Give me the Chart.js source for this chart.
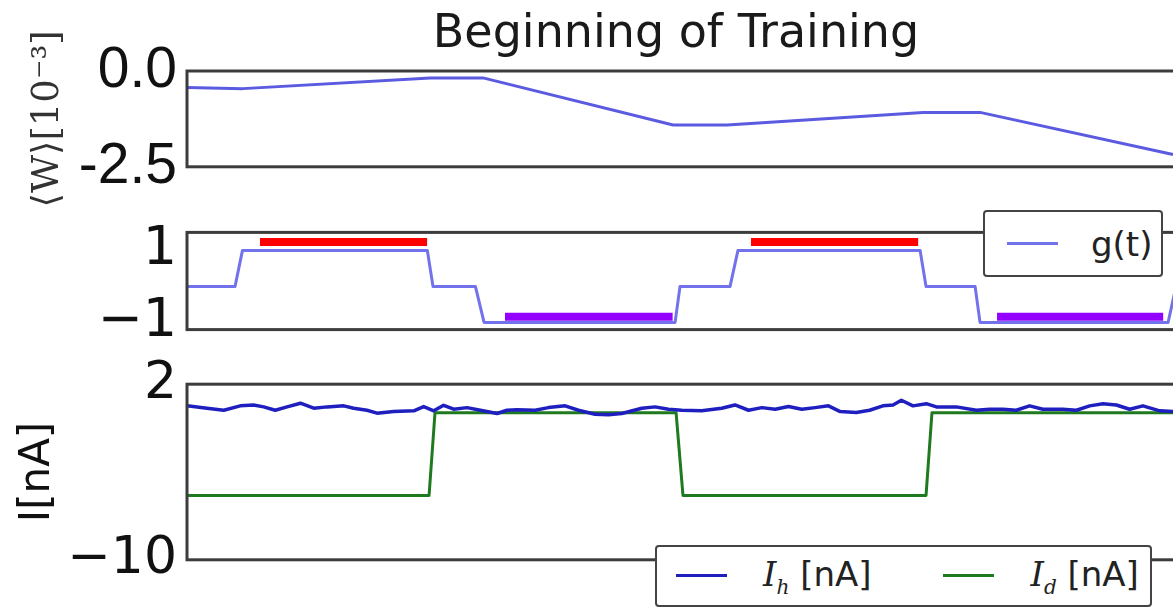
<!DOCTYPE html>
<html>
<head>
<meta charset="utf-8">
<script src="https://cdn.jsdelivr.net/npm/chart.js@4.4.1/dist/chart.umd.min.js"></script>
<style>
  html, body { margin: 0; padding: 0; background: #fff; overflow: hidden; }
  body { width: 1173px; height: 609px; position: relative; }
  canvas { position: absolute; left: 0; }
  #wChart { top: 0; }
  #gChart { top: 190px; }
  #iChart { top: 343px; }
  .legend {
    position: absolute; z-index: 5; background: #fff; box-sizing: border-box;
    border: 2px solid #444; border-radius: 4px;
    display: flex; align-items: center;
    font-family: 'DejaVu Sans', sans-serif; font-size: 34px; color: #222;
  }
  .legend .item { display: flex; align-items: center; }
  .legend .swatch { display: inline-block; width: 51px; height: 3px; }
  .legend i { font-family: 'DejaVu Serif', serif; }
  .legend sub { font-size: 20px; }
  #gLegend { left: 983px; top: 210px; width: 180px; height: 67px; padding-left: 22px; }
  #gLegend .swatch { margin-right: 33px; }
  #iLegend { left: 655px; top: 545px; width: 497px; height: 62px; padding-left: 19px; }
  #iLegend .swatch { margin-right: 36px; }
  #iLegend .item + .item { margin-left: 72px; }
</style>
</head>
<body>
<canvas id="wChart" width="1176" height="211"></canvas>
<canvas id="gChart" width="1176" height="182"></canvas>
<canvas id="iChart" width="1176" height="258"></canvas>
<div id="gLegend" class="legend"></div>
<div id="iLegend" class="legend"></div>
<script>
// temps en secondes
const tMax = 4.012;

// panneau 1 : poids moyen <W> [1e-3]
const wTimes  = [0, 0.227, 0.986, 1.201, 1.972, 2.191, 2.986, 3.217, 4.0];
const wValues = [-0.43, -0.46, -0.18, -0.18, -1.41, -1.41, -1.08, -1.08, -2.18];
const wTicks = [0, -2.5];
const wTickLabels = ['0.0', '-2.5'];

// panneau 2 : signal g(t)
const gTimes  = [0, 0.195, 0.225, 0.975, 0.998, 1.17, 1.205, 1.98, 2.0, 2.203, 2.235, 2.974, 2.998, 3.197, 3.217, 3.98, 4.012];
const gValues = [0, 0, 1, 1, 0, 0, -1, -1, 0, 0, 1, 1, 0, 0, -1, -1, 0];
const gTicks = [1, -1];
const gTickLabels = ['1', '\u22121'];
const redStart = [0.296, 2.288];
const redEnd = [0.974, 2.966];
const redLevel = 1.23;
const purpleStart = [1.29, 3.286];
const purpleEnd = [1.97, 3.96];
const purpleLevel = -0.84;

// panneau 3 : courants I_h et I_d
const ihTimes = [0, 0.081, 0.149, 0.216, 0.270, 0.311, 0.358, 0.406, 0.460, 0.514, 0.568, 0.636, 0.676, 0.730, 0.771, 0.838, 0.920, 0.960, 1.001, 1.041, 1.082, 1.136, 1.190, 1.258, 1.298, 1.339,
  1.412, 1.466, 1.534, 1.588, 1.655, 1.710, 1.764, 1.845, 1.899, 1.953, 2.007, 2.088, 2.169, 2.223, 2.278, 2.332, 2.386, 2.440, 2.494, 2.548, 2.602, 2.650,
  2.715, 2.769, 2.823, 2.864, 2.898, 2.945, 2.999, 3.040, 3.121, 3.202, 3.256, 3.310, 3.364, 3.418, 3.472, 3.553, 3.608, 3.662, 3.716, 3.770, 3.824, 3.878, 3.946, 4.000];
const ihValues = [0.52, 0.36, 0.22, 0.52, 0.58, 0.45, 0.22, 0.45, 0.70, 0.36, 0.45, 0.52, 0.36, 0.22, 0.02, 0.13, 0.18, 0.47, 0.18, 0.56, 0.29, 0.40, 0.22, 0.00, 0.22, 0.25,
  0.22, 0.40, 0.52, 0.22, -0.05, -0.09, 0.00, 0.36, 0.45, 0.29, 0.22, 0.18, 0.36, 0.58, 0.22, 0.40, 0.29, 0.47, 0.29, 0.40, 0.52, 0.13,
  0.07, 0.22, 0.52, 0.58, 0.90, 0.52, 0.67, 0.45, 0.45, 0.22, 0.29, 0.29, 0.22, 0.52, 0.29, 0.29, 0.22, 0.52, 0.67, 0.58, 0.29, 0.52, 0.18, 0.13];
const idTimes  = [0, 0.982, 1.006, 1.984, 2.012, 2.998, 3.022, 4.0];
const idValues = [-5.6, -5.6, 0.05, 0.05, -5.6, -5.6, 0.05, 0.05];
const iTicks = [2, -10];
const iTickLabels = ['2', '\u221210'];

const toPoints = (ts, vs) => ts.map((t, i) => ({ x: t, y: vs[i] }));

// cadre noir autour de chaque axe (spines matplotlib)
const framePlugin = {
  id: 'frame',
  afterDatasetsDraw(chart) {
    const { ctx, chartArea: a } = chart;
    ctx.save();
    ctx.strokeStyle = '#3c3c3c';
    ctx.lineWidth = 3;
    ctx.strokeRect(a.left, a.top, a.width, a.height);
    ctx.restore();
  }
};

// titre centré comme dans la figure d'origine
const headingPlugin = {
  id: 'heading',
  afterDraw(chart, args, opts) {
    if (!opts.text) return;
    const ctx = chart.ctx;
    ctx.save();
    ctx.font = opts.font;
    ctx.fillStyle = opts.color;
    ctx.textAlign = 'center';
    ctx.textBaseline = 'alphabetic';
    ctx.fillText(opts.text, opts.x, opts.y);
    ctx.restore();
  }
};

function yAxis(min, max, ticks, labels, font, title) {
  return {
    min: min, max: max,
    afterBuildTicks: s => { s.ticks = ticks.map(v => ({ value: v })); },
    afterFit: s => { s.width = 187; },
    ticks: {
      callback: v => labels[ticks.indexOf(v)],
      font: font, color: '#111', padding: 10
    },
    grid: { display: false, drawTicks: false },
    border: { display: false },
    title: title || { display: false }
  };
}

function makePanel(id, datasets, y, padding, heading) {
  return new Chart(document.getElementById(id), {
    type: 'line',
    data: { datasets: datasets },
    options: {
      responsive: false,
      animation: false,
      layout: { padding: padding },
      elements: { point: { radius: 0 }, line: { tension: 0, borderJoinStyle: 'round' } },
      plugins: { legend: { display: false }, tooltip: { enabled: false }, heading: heading || {} },
      scales: {
        x: { type: 'linear', min: 0, max: tMax, display: false },
        y: y
      }
    },
    plugins: [framePlugin, headingPlugin]
  });
}

// 1. <W>
makePanel('wChart', [{
  data: toPoints(wTimes, wValues), borderColor: '#5b5be2', borderWidth: 3
}], yAxis(-2.5, 0, wTicks, wTickLabels, { family: 'Liberation Sans', size: 57 }, {
  display: true, text: '\u27E8W\u27E9[10\u207B\u00B3]', color: '#333',
  font: { family: 'DejaVu Serif', size: 37 }, padding: { top: 26, bottom: 0 }
}), { top: 71, bottom: 40, left: 0, right: 0 },
{ text: 'Beginning of Training', x: 676, y: 47, font: '46px "DejaVu Sans"', color: '#1a1a1a' });

// 2. g(t) + barres de repère
const cueSets = [];
redStart.forEach((s, i) => cueSets.push({
  data: toPoints([s, redEnd[i]], [redLevel, redLevel]), borderColor: '#ff0000', borderWidth: 8, borderCapStyle: 'butt'
}));
purpleStart.forEach((s, i) => cueSets.push({
  data: toPoints([s, purpleEnd[i]], [purpleLevel, purpleLevel]), borderColor: '#9400ff', borderWidth: 8, borderCapStyle: 'butt'
}));
const gChart = makePanel('gChart', [{
  label: 'g(t)', data: toPoints(gTimes, gValues), borderColor: '#7272ec', borderWidth: 3
}].concat(cueSets), yAxis(-1.2, 1.5, gTicks, gTickLabels, { family: 'DejaVu Sans', size: 54 }),
{ top: 42, bottom: 40, left: 0, right: 0 });

// 3. courants
const iChart = makePanel('iChart', [
  { label: 'I_h [nA]', data: toPoints(ihTimes, ihValues), borderColor: '#1f1fc0', borderWidth: 3.5 },
  { label: 'I_d [nA]', data: toPoints(idTimes, idValues), borderColor: '#1f7a1f', borderWidth: 3 }
], yAxis(-10, 2, iTicks, iTickLabels, { family: 'DejaVu Sans', size: 52 }, {
  display: true, text: 'I[nA]', color: '#111',
  font: { family: 'DejaVu Sans', size: 42 }, padding: { top: 13, bottom: 0 }
}), { top: 40, bottom: 40, left: 0, right: 0 });

// légendes HTML construites depuis les datasets
function htmlLegend(chart, boxId) {
  const box = document.getElementById(boxId);
  chart.data.datasets.filter(d => d.label).forEach(d => {
    const parts = d.label.split(' ');
    const name = parts[0].includes('_')
      ? '<i>' + parts[0].split('_')[0] + '<sub>' + parts[0].split('_')[1] + '</sub></i>'
      : parts[0];
    const rest = parts.slice(1).join(' ');
    const item = document.createElement('span');
    item.className = 'item';
    item.innerHTML = '<span class="swatch" style="background:' + d.borderColor + '"></span>' +
      '<span>' + name + (rest ? '&nbsp;' + rest : '') + '</span>';
    box.appendChild(item);
  });
}
htmlLegend(gChart, 'gLegend');
htmlLegend(iChart, 'iLegend');
</script>
</body>
</html>
